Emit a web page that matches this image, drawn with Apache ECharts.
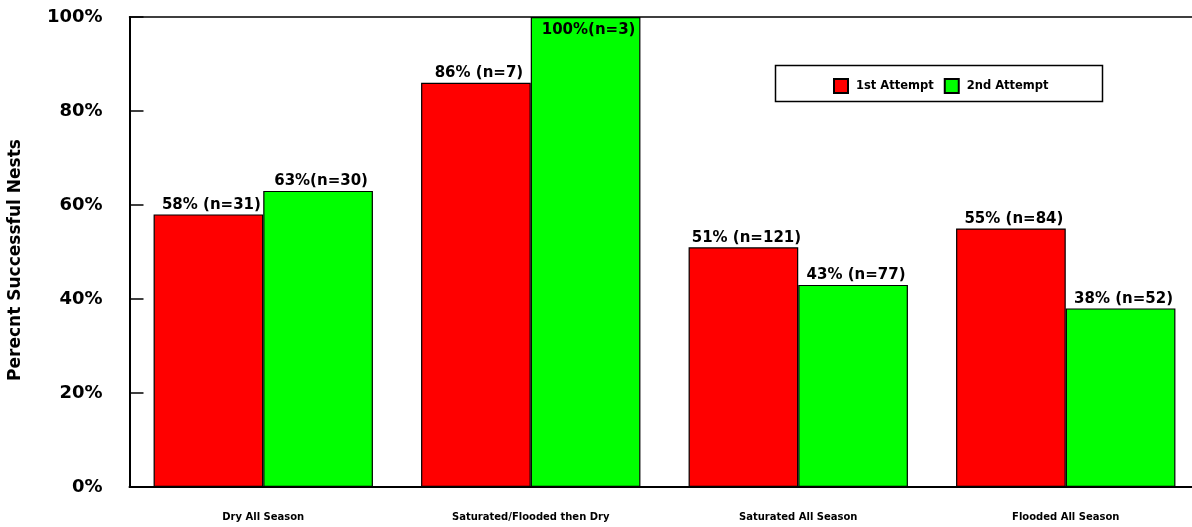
<!DOCTYPE html>
<html>
<head>
<meta charset="utf-8">
<script src="https://cdn.jsdelivr.net/npm/echarts@6/dist/echarts.min.js"></script>
<style>html,body{margin:0;padding:0;background:#fff}#c{width:1192px;height:527px}</style>
</head>
<body>
<div id="c"></div>
<script>
var categories = ['Dry All Season', 'Saturated/Flooded then Dry', 'Saturated All Season', 'Flooded All Season'];
var seriesNames = ['1st Attempt', '2nd Attempt'];
var firstAttempt = [58, 86, 51, 55];
var secondAttempt = [63, 100, 43, 38];
var firstLabels = ['58% (n=31)', '86% (n=7)', '51% (n=121)', '55% (n=84)'];
var secondLabels = ['63%(n=30)', '100%(n=3)', '43% (n=77)', '38% (n=52)'];
var yTicks = [0, 20, 40, 60, 80, 100];

var FONT = 'DejaVu Sans';
var chart = echarts.init(document.getElementById('c'), null, {renderer: 'canvas'});

function buildData(values, labels) {
  return values.map(function (v, i) {
    var item = {value: v, labelText: labels[i]};
    if (v >= 100) {
      item.label = {position: 'insideTop', distance: 6};
    }
    return item;
  });
}

var labelStyle = {
  show: true,
  position: 'top',
  distance: 2,
  offset: [3, 0],
  fontFamily: FONT,
  fontWeight: 'bold',
  fontSize: 15,
  color: '#000',
  formatter: function (p) { return p.data.labelText; }
};

chart.setOption({
  animation: false,
  backgroundColor: '#fff',
  grid: {left: 129.5, width: 1070, top: 17, bottom: 40, containLabel: false, outerBoundsMode: 'none'},
  legend: {
    data: seriesNames,
    left: 833,
    top: 78,
    padding: 0,
    orient: 'horizontal',
    itemWidth: 14,
    itemHeight: 14,
    itemGap: 10,
    icon: 'rect',
    textStyle: {fontFamily: FONT, fontWeight: 'bold', fontSize: 11.5, color: '#000', padding: [0, 0, 0, 3]}
  },
  graphic: [{
    type: 'rect',
    shape: {x: 775.5, y: 65.5, width: 327, height: 36},
    style: {fill: 'none', stroke: '#000', lineWidth: 1.5},
    z: 10
  }],
  xAxis: [{
    type: 'category',
    data: categories,
    axisLine: {lineStyle: {color: '#000', width: 2}},
    axisTick: {show: false},
    axisLabel: {fontFamily: FONT, fontWeight: 'bold', fontSize: 10, color: '#000', margin: 25}
  }, {
    type: 'category',
    data: categories,
    position: 'top',
    axisLine: {lineStyle: {color: '#000', width: 1.5}},
    axisTick: {show: false},
    axisLabel: {show: false}
  }],
  yAxis: {
    type: 'value',
    min: yTicks[0],
    max: yTicks[yTicks.length - 1],
    interval: yTicks[1] - yTicks[0],
    name: 'Perecnt Successful Nests',
    nameLocation: 'middle',
    nameGap: 105,
    nameTextStyle: {fontFamily: FONT, fontWeight: 'bold', fontSize: 17, color: '#000', padding: [0, 16, 0, 0]},
    axisLine: {show: true, lineStyle: {color: '#000', width: 2}},
    axisTick: {show: true, inside: true, length: 14, lineStyle: {color: '#000', width: 1.5}},
    splitLine: {show: false},
    axisLabel: {formatter: '{value}%', fontFamily: FONT, fontWeight: 'bold', fontSize: 18, color: '#000', margin: 27}
  },
  series: [{
    name: seriesNames[0],
    type: 'bar',
    data: buildData(firstAttempt, firstLabels),
    barGap: '0%',
    barCategoryGap: '18%',
    itemStyle: {color: '#ff0000', borderColor: '#000', borderWidth: 1.2},
    label: labelStyle
  }, {
    name: seriesNames[1],
    type: 'bar',
    data: buildData(secondAttempt, secondLabels),
    barGap: '0%',
    barCategoryGap: '18%',
    itemStyle: {color: '#00ff00', borderColor: '#000', borderWidth: 1.2},
    label: labelStyle
  }]
});
</script>
</body>
</html>
